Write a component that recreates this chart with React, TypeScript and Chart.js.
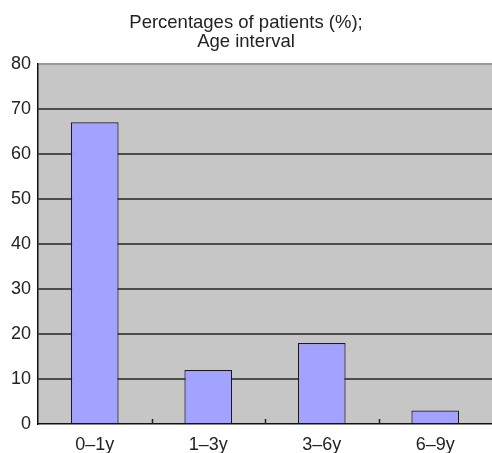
import React, { useEffect, useRef } from "react";
import { Chart, registerables } from "chart.js";

Chart.register(...registerables);

const categories = ["0–1y", "1–3y", "3–6y", "6–9y"];
const percentages = [67, 12, 18, 3];
const yTicks = [0, 10, 20, 30, 40, 50, 60, 70, 80];
const titleLines = ["Percentages of patients (%);", "Age interval"];

const FONT = "'Liberation Sans', Arial, Helvetica, sans-serif";

const plotBg = {
  id: "plotBg",
  beforeDraw(chart: any) {
    const { ctx, chartArea } = chart;
    ctx.save();
    ctx.fillStyle = "#c6c6c6";
    ctx.fillRect(chartArea.left, chartArea.top, chartArea.right - chartArea.left, chartArea.bottom - chartArea.top);
    ctx.restore();
  },
};

const innerTicks = {
  id: "innerTicks",
  afterDraw(chart: any) {
    const { ctx, chartArea } = chart;
    const xs = chart.scales.x;
    ctx.save();
    ctx.strokeStyle = "#222";
    ctx.lineWidth = 1.5;
    for (let i = 1; i < categories.length; i++) {
      const x = Math.round((xs.getPixelForValue(i - 1) + xs.getPixelForValue(i)) / 2) + 0.5;
      ctx.beginPath();
      ctx.moveTo(x, chartArea.bottom);
      ctx.lineTo(x, chartArea.bottom - 5);
      ctx.stroke();
    }
    ctx.restore();
  },
};

export default function App() {
  const ref = useRef<HTMLCanvasElement | null>(null);
  useEffect(() => {
    if (!ref.current) return;
    const chart = new Chart(ref.current, {
      type: "bar",
      data: {
        labels: categories,
        datasets: [
          {
            data: percentages,
            backgroundColor: "#a3a3ff",
            borderColor: "#1a1a1a",
            borderWidth: 1.2,
            categoryPercentage: 1,
            barPercentage: 0.42,
          },
        ],
      },
      options: {
        animation: false,
        responsive: false,
        maintainAspectRatio: false,
        layout: { padding: { left: 0, right: 0, top: 0, bottom: 0 } },
        plugins: {
          legend: { display: false },
          tooltip: { enabled: false },
          title: {
            display: true,
            text: titleLines,
            color: "#222",
            font: { family: FONT, size: 18.5, weight: "normal", lineHeight: 1.05 },
            padding: { top: 13, bottom: 12 },
          },
        },
        scales: {
          x: {
            afterFit(scale: any) {
              scale.height = 29;
            },
            grid: { display: false },
            border: { display: true, color: "#111", width: 1.5 },
            ticks: { color: "#222", font: { family: FONT, size: 18 }, padding: 2 },
          },
          y: {
            min: 0,
            max: 80,
            afterFit(scale: any) {
              scale.width = 38;
            },
            afterBuildTicks(scale: any) {
              scale.ticks = yTicks.map((v) => ({ value: v }));
            },
            border: { display: true, color: "#111", width: 1.5 },
            grid: {
              color: (c: any) => (c.tick && c.tick.value === 80 ? "#9a9a9a" : c.tick && c.tick.value === 0 ? "rgba(0,0,0,0)" : "#4d4d4d"),
              lineWidth: 2,
              drawTicks: false,
            },
            ticks: { color: "#222", font: { family: FONT, size: 18 }, padding: 7 },
          },
        },
      },
      plugins: [plotBg, innerTicks],
    } as any);
    return () => chart.destroy();
  }, []);
  return (
    <div style={{ position: "fixed", left: 0, top: 0, width: 492, height: 453, background: "#fff" }}>
      <canvas ref={ref} width={492} height={453} style={{ display: "block" }} />
    </div>
  );
}
